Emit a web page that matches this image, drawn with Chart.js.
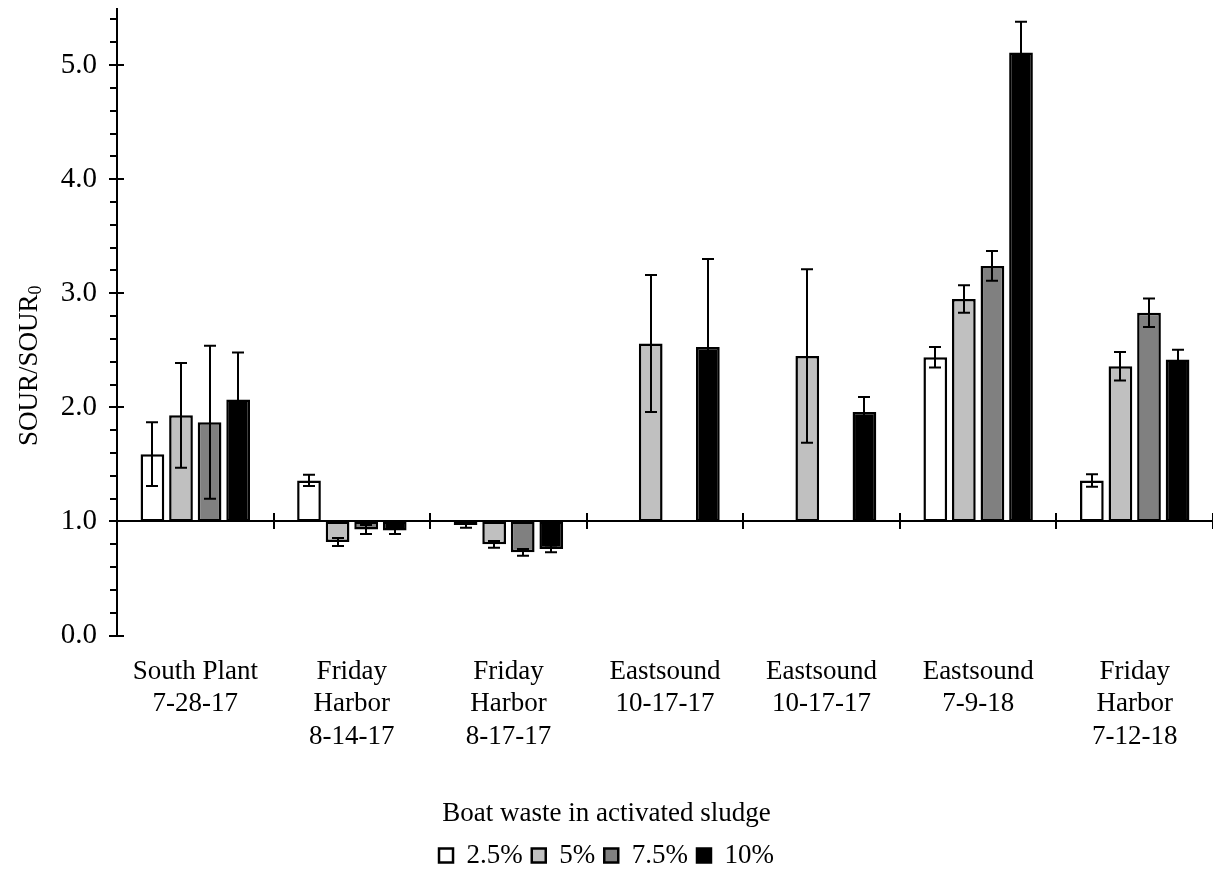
<!DOCTYPE html>
<html>
<head>
<meta charset="utf-8">
<script src="https://cdn.jsdelivr.net/npm/chart.js@4.4.0/dist/chart.umd.min.js"></script>
<style>
  body { margin: 0; background: #fff; }
  #wrap { width: 1213px; height: 869px; }
</style>
</head>
<body>
<div id="wrap"><canvas id="sourChart" width="1213" height="869"></canvas></div>
<script>
// Categorias (planta e data)
const sites = [
  ['South Plant', '7-28-17'],
  ['Friday', 'Harbor', '8-14-17'],
  ['Friday', 'Harbor', '8-17-17'],
  ['Eastsound', '10-17-17'],
  ['Eastsound', '10-17-17'],
  ['Eastsound', '7-9-18'],
  ['Friday', 'Harbor', '7-12-18']
];

// SOUR/SOUR0 por fração de resíduo de barco
const pct2_5 = [1.59, 1.36, 0.97, null, null, 2.44, 1.36];
const pct5   = [1.93, 0.82, 0.80, 2.56, 2.45, 2.95, 2.36];
const pct7_5 = [1.87, 0.93, 0.73, null, null, 3.24, 2.83];
const pct10  = [2.07, 0.92, 0.76, 2.53, 1.96, 5.11, 2.42];

// Barras de erro (desvio)
const err2_5 = [0.28, 0.05, 0.025, null, null, 0.09, 0.055];
const err5   = [0.46, 0.035, 0.03, 0.60, 0.76, 0.12, 0.125];
const err7_5 = [0.67, 0.04, 0.03, null, null, 0.13, 0.125];
const err10  = [0.41, 0.03, 0.03, 0.77, 0.13, 0.27, 0.085];

const yTicks = [0, 1, 2, 3, 4, 5];
const baseline = 1.0;

const serif = '"Liberation Serif", "Times New Roman", serif';
const font = { family: serif, size: 27 };

function series(label, values, errors, fill) {
  return {
    label: label,
    data: values.map(v => v == null ? null : [baseline, v]),
    values: values,
    errors: errors,
    backgroundColor: fill,
    borderColor: '#000',
    borderWidth: 2.5,
    borderSkipped: false,
    categoryPercentage: 0.73,
    barPercentage: 0.83
  };
}

// Eixos desenhados à mão: linha em 1.0 e marcas menores no eixo y
const axesPlugin = {
  id: 'axesPlugin',
  afterDatasetsDraw(chart) {
    const ctx = chart.ctx;
    const xs = chart.scales.x, ys = chart.scales.y;
    const left = chart.chartArea.left, right = chart.chartArea.right;
    ctx.save();
    ctx.strokeStyle = '#000';
    ctx.lineWidth = 2;
    // eixo y
    ctx.beginPath();
    ctx.moveTo(left, ys.getPixelForValue(5.5));
    ctx.lineTo(left, ys.getPixelForValue(0));
    ctx.stroke();
    for (let k = 0; k <= 27; k++) {
      const py = Math.round(ys.getPixelForValue(k / 5));
      ctx.beginPath();
      if (k % 5 === 0) {
        ctx.moveTo(left - 8, py);
        ctx.lineTo(left + 7, py);
      } else {
        ctx.moveTo(left - 7, py);
        ctx.lineTo(left, py);
      }
      ctx.stroke();
    }
    // linha base em 1.0
    const by = Math.round(ys.getPixelForValue(baseline));
    ctx.beginPath();
    ctx.moveTo(left, by);
    ctx.lineTo(right, by);
    ctx.stroke();
    const step = xs.getPixelForValue(1) - xs.getPixelForValue(0);
    for (let i = 0; i < sites.length; i++) {
      const px = Math.round(xs.getPixelForValue(i) + step / 2);
      ctx.beginPath();
      ctx.moveTo(px, by - 8);
      ctx.lineTo(px, by + 8);
      ctx.stroke();
    }
    // título do eixo y com subscrito
    ctx.fillStyle = '#000';
    ctx.translate(30, (ys.top + ys.bottom) / 2 + 44);
    ctx.rotate(-Math.PI / 2);
    ctx.textBaseline = 'middle';
    ctx.font = '27px ' + serif;
    const main = 'SOUR/SOUR';
    const w = ctx.measureText(main).width;
    ctx.font = '18px ' + serif;
    const ws = ctx.measureText('0').width;
    const x0 = -(w + ws) / 2;
    ctx.font = '27px ' + serif;
    ctx.fillText(main, x0, 0);
    ctx.font = '18px ' + serif;
    ctx.fillText('0', x0 + w, 6);
    ctx.restore();
  }
};

const errorBars = {
  id: 'errorBars',
  afterDatasetsDraw(chart) {
    const ctx = chart.ctx;
    const ys = chart.scales.y;
    ctx.save();
    ctx.strokeStyle = '#000';
    ctx.lineWidth = 2;
    chart.data.datasets.forEach((ds, i) => {
      const meta = chart.getDatasetMeta(i);
      meta.data.forEach((bar, j) => {
        const v = ds.values[j], e = ds.errors[j];
        if (v == null || e == null) return;
        const x = Math.round(bar.x);
        const t = ys.getPixelForValue(v + e), b = ys.getPixelForValue(v - e);
        ctx.beginPath();
        ctx.moveTo(x, t); ctx.lineTo(x, b);
        ctx.moveTo(x - 6, t); ctx.lineTo(x + 6, t);
        ctx.moveTo(x - 6, b); ctx.lineTo(x + 6, b);
        ctx.stroke();
      });
    });
    ctx.restore();
  }
};

const ctx = document.getElementById('sourChart').getContext('2d');
const sourChart = new Chart(ctx, {
  type: 'bar',
  data: {
    labels: sites,
    datasets: [
      series('2.5%', pct2_5, err2_5, '#ffffff'),
      series('5%', pct5, err5, '#c0c0c0'),
      series('7.5%', pct7_5, err7_5, '#808080'),
      series('10%', pct10, err10, '#000000')
    ]
  },
  options: {
    responsive: false,
    animation: false,
    devicePixelRatio: 1,
    layout: { padding: { top: 8, right: 0, left: 0, bottom: -10 } },
    scales: {
      x: {
        grid: { display: false, drawTicks: false },
        border: { display: false },
        ticks: { color: '#000', font: font, padding: 20, maxRotation: 0, autoSkip: false },
        afterFit(scale) { scale.height = 165; }
      },
      y: {
        min: 0,
        max: 5.5,
        grid: { display: false, drawTicks: false },
        border: { display: false },
        afterBuildTicks(scale) { scale.ticks = yTicks.map(v => ({ value: v })); },
        ticks: { color: '#000', font: { family: serif, size: 29 }, padding: 20, callback: v => v.toFixed(1) },
        afterFit(scale) { scale.width = 117; scale.paddingTop = 0; }
      }
    },
    plugins: {
      tooltip: { enabled: false },
      legend: {
        position: 'bottom',
        title: { display: true, text: 'Boat waste in activated sludge', color: '#000', font: font, padding: 0 },
        labels: { color: '#000', font: font, boxWidth: 14, boxHeight: 14, padding: 9 }
      }
    }
  },
  plugins: [axesPlugin, errorBars]
});
</script>
</body>
</html>
